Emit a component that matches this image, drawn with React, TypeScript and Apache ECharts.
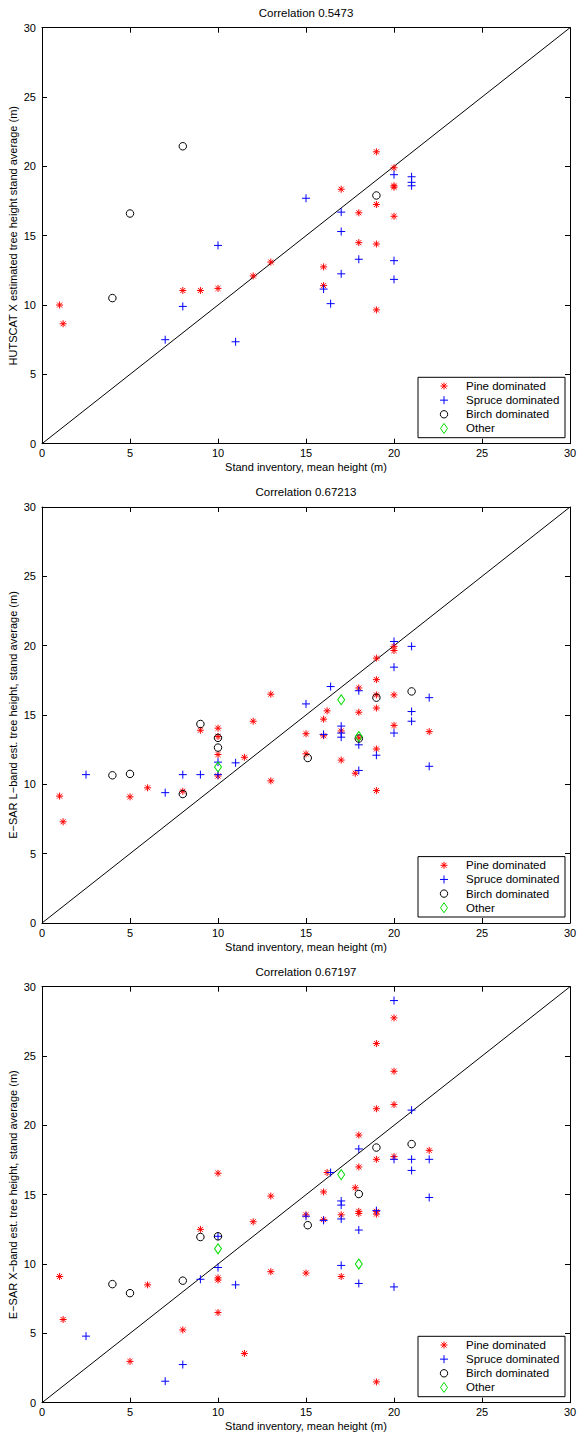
import React, { useEffect, useRef } from "react";
import * as echarts from "echarts";

const FONT = "Liberation Sans";

const TITLES = ["Correlation 0.5473", "Correlation 0.67213", "Correlation 0.67197"];
const Y_NAMES = [
  "HUTSCAT X estimated tree height stand average (m)",
  "E−SAR L−band est. tree height, stand average (m)",
  "E−SAR X−band est. tree height, stand average (m)",
];
const X_NAME = "Stand inventory, mean height (m)";
const SERIES_NAMES = ["Pine dominated", "Spruce dominated", "Birch dominated", "Other"];
const DIAGONAL = [
  [0, 0],
  [30, 30],
];

// Panel 1: HUTSCAT X
const pine1 = [
  [1.0, 10.0], [1.2, 8.65], [8, 11.05], [9, 11.05], [10, 11.2], [12, 12.1], [13, 13.1],
  [16, 12.75], [16, 11.4], [17, 18.35], [18, 16.65], [18, 14.5], [19, 21.05], [19, 17.25],
  [19, 14.4], [19, 9.65], [20, 19.9], [20, 18.6], [20, 18.5], [20, 16.4],
];
const spruce1 = [
  [7, 7.5], [8, 9.9], [10, 14.3], [11, 7.35], [15, 17.7], [16, 11.15], [16.4, 10.1],
  [17, 16.7], [17, 15.3], [17, 12.25], [18, 13.3], [20, 19.4], [20, 13.2], [20, 11.85],
  [21, 19.25], [21, 18.85], [21, 18.6],
];
const birch1 = [[4, 10.5], [5, 16.6], [8, 21.45], [19, 17.9]];
const other1: number[][] = [];

// Panel 2: E-SAR L-band
const pine2 = [
  [1, 9.15], [1.2, 7.3], [5, 9.1], [6, 9.75], [8, 9.5], [9, 13.9], [10, 14.05], [10, 13.45],
  [10, 12.15], [10, 10.6], [11.5, 11.95], [12, 14.55], [13, 16.5], [13, 10.25], [15, 13.65],
  [15, 12.2], [16, 14.7], [16, 13.5], [16.2, 15.3], [17, 13.85], [17, 11.75], [17.8, 10.8],
  [18, 16.95], [18, 15.2], [18, 13.35], [19, 19.1], [19, 17.55], [19, 16.45], [19, 15.5],
  [19, 12.55], [19, 9.55], [20, 19.95], [20, 19.65], [20, 16.45], [20, 14.25], [22, 13.8],
];
const spruce2 = [
  [2.5, 10.7], [7, 9.4], [8, 10.7], [9, 10.7], [10, 11.6], [10, 10.7], [11, 11.55], [15, 15.8],
  [16, 13.6], [16.4, 17.05], [17, 14.2], [17, 13.7], [17, 13.4], [18, 16.75], [18, 12.85],
  [18, 11.0], [19, 12.1], [20, 20.3], [20, 18.45], [20, 13.7], [21, 19.95], [21, 15.25],
  [21, 14.55], [22, 16.25], [22, 11.3],
];
const birch2 = [
  [4, 10.65], [5, 10.75], [8, 9.3], [9, 14.35], [10, 13.35], [10, 12.65], [15.1, 11.9],
  [18, 13.3], [19, 16.25], [21, 16.7],
];
const other2 = [[10, 11.25], [17, 16.1], [18, 13.45]];

// Panel 3: E-SAR X-band
const pine3 = [
  [1, 9.1], [1.2, 6.0], [5, 2.98], [6, 8.5], [8, 5.25], [9, 12.5], [10, 16.55], [10, 9.0],
  [10, 8.85], [10, 6.5], [11.5, 3.55], [12, 13.05], [13, 14.9], [13, 9.45], [15, 13.55],
  [15, 9.35], [16, 15.2], [16, 13.2], [16.2, 16.6], [17, 13.55], [17, 9.1], [17.8, 15.5],
  [18, 19.3], [18, 17.0], [18, 13.8], [18, 13.65], [19, 25.9], [19, 21.2], [19, 17.55],
  [19, 13.8], [19, 13.6], [19, 1.5], [20, 27.75], [20, 23.9], [20, 21.5], [20, 17.75], [22, 18.2],
];
const spruce3 = [
  [2.5, 4.8], [7, 1.55], [8, 2.75], [9, 8.9], [10, 12.0], [10, 9.75], [11, 8.5], [15, 13.45],
  [16, 13.15], [16.4, 16.6], [17, 14.55], [17, 14.25], [17, 13.25], [17, 9.9], [18, 18.3],
  [18, 12.45], [18, 8.6], [19, 13.85], [20, 29.0], [20, 17.55], [20, 8.35], [21, 21.1],
  [21, 17.55], [21, 16.75], [22, 17.55], [22, 14.8],
];
const birch3 = [
  [4, 8.55], [5, 7.9], [8, 8.8], [9, 11.95], [10, 12.0], [15.1, 12.8], [18, 15.05], [19, 18.4],
  [21, 18.65],
];
const other3 = [[10, 11.1], [17, 16.45], [18, 10.0]];

const PANELS = [
  [pine1, spruce1, birch1, other1],
  [pine2, spruce2, birch2, other2],
  [pine3, spruce3, birch3, other3],
];

const GRID_LEFT = 42;
const GRID_W = 528;
const GRID_H = 416;
const GRID_TOPS = [27.7, 507, 986.7];

const STAR = "path://M0,-1L0,1M-1,0L1,0M-0.71,-0.71L0.71,0.71M-0.71,0.71L0.71,-0.71";
const PLUS = "path://M0,-1L0,1M-1,0L1,0";
const DIAMOND = "path://M0,-1.4L1,0L0,1.4L-1,0Z";
const CLEAR = "rgba(0,0,0,0)";

const STYLES = [
  { symbol: STAR, symbolSize: 7, color: "#ff0000" },
  { symbol: PLUS, symbolSize: 8, color: "#0000ff" },
  { symbol: "circle", symbolSize: 7.5, color: "#000000" },
  { symbol: DIAMOND, symbolSize: [7, 10], color: "#00dd00" },
];

function legendIcon(k: number, cx: number, cy: number): any[] {
  const color = STYLES[k].color;
  const st = { stroke: color, lineWidth: 1, fill: null };
  const ln = (x1: number, y1: number, x2: number, y2: number) => ({
    type: "line",
    shape: { x1, y1, x2, y2 },
    style: st,
  });
  if (k === 0) {
    const r = 3.5;
    const d = 2.5;
    return [
      ln(cx, cy - r, cx, cy + r),
      ln(cx - r, cy, cx + r, cy),
      ln(cx - d, cy - d, cx + d, cy + d),
      ln(cx - d, cy + d, cx + d, cy - d),
    ];
  }
  if (k === 1) {
    const r = 4;
    return [ln(cx, cy - r, cx, cy + r), ln(cx - r, cy, cx + r, cy)];
  }
  if (k === 2) {
    return [{ type: "circle", shape: { cx, cy, r: 3.7 }, style: { stroke: color, lineWidth: 1, fill: null } }];
  }
  return [
    {
      type: "polygon",
      shape: { points: [[cx, cy - 5], [cx + 3.5, cy], [cx, cy + 5], [cx - 3.5, cy]] },
      style: { stroke: color, lineWidth: 1, fill: null },
    },
  ];
}

function buildLegend(t: number): any {
  const boxX = 418;
  const boxY = t + 349.6;
  const children: any[] = [
    {
      type: "rect",
      shape: { x: boxX, y: boxY, width: 147, height: 60.4 },
      style: { fill: "#fff", stroke: "#000", lineWidth: 1 },
    },
  ];
  SERIES_NAMES.forEach((name, k) => {
    const cy = boxY + 8.7 + 14.15 * k;
    children.push(...legendIcon(k, 444, cy));
    children.push({
      type: "text",
      x: 466,
      y: cy,
      style: {
        text: name,
        fill: "#000",
        font: `11.5px ${FONT}`,
        textAlign: "left",
        textVerticalAlign: "middle",
      },
    });
  });
  return { type: "group", z: 10, children };
}

function buildOption() {
  const grid = GRID_TOPS.map((t) => ({
    left: GRID_LEFT,
    top: t,
    width: GRID_W,
    height: GRID_H,
    containLabel: false,
    outerBoundsMode: "none",
  }));
  const xAxis: any[] = [];
  const yAxis: any[] = [];
  const baseAxis = {
    type: "value",
    min: 0,
    max: 30,
    interval: 5,
    splitLine: { show: false },
    axisLine: { show: true, onZero: false, lineStyle: { color: "#000", width: 1 } },
    axisTick: { show: true, inside: true, length: 5, lineStyle: { color: "#000", width: 1 } },
  };
  GRID_TOPS.forEach((_, i) => {
    xAxis.push({
      ...baseAxis,
      gridIndex: i,
      position: "bottom",
      axisLabel: { color: "#000", fontSize: 11, fontFamily: FONT, margin: 4 },
      name: X_NAME,
      nameLocation: "middle",
      nameGap: 18,
      nameMoveOverlap: false,
      nameTextStyle: { color: "#000", fontSize: 11, fontFamily: FONT },
    });
    xAxis.push({
      ...baseAxis,
      gridIndex: i,
      position: "top",
      axisLabel: { show: false },
    });
    yAxis.push({
      ...baseAxis,
      gridIndex: i,
      position: "left",
      axisLabel: { color: "#000", fontSize: 11, fontFamily: FONT, margin: 6 },
      name: Y_NAMES[i],
      nameLocation: "middle",
      nameGap: 24,
      nameMoveOverlap: false,
      nameTextStyle: { color: "#000", fontSize: 11, fontFamily: FONT },
    });
    yAxis.push({
      ...baseAxis,
      gridIndex: i,
      position: "right",
      axisLabel: { show: false },
    });
  });

  const series: any[] = [];
  PANELS.forEach((groups, i) => {
    series.push({
      type: "line",
      xAxisIndex: i * 2,
      yAxisIndex: i * 2,
      data: DIAGONAL,
      showSymbol: false,
      silent: true,
      lineStyle: { color: "#000", width: 1 },
      z: 1,
    });
    groups.forEach((data, k) => {
      const s = STYLES[k];
      series.push({
        type: "scatter",
        name: SERIES_NAMES[k],
        xAxisIndex: i * 2,
        yAxisIndex: i * 2,
        data,
        symbol: s.symbol,
        symbolSize: s.symbolSize,
        itemStyle: { color: CLEAR, borderColor: s.color, borderWidth: 1, opacity: 1 },
        emphasis: { disabled: true },
        z: 2,
      });
    });
  });

  const titles = GRID_TOPS.map((t, i) => ({
    type: "text",
    x: GRID_LEFT + GRID_W / 2,
    y: t - 15,
    style: {
      text: TITLES[i],
      fill: "#000",
      font: `11.5px ${FONT}`,
      textAlign: "center",
      textVerticalAlign: "middle",
    },
  }));

  return {
    animation: false,
    backgroundColor: "#fff",
    grid,
    xAxis,
    yAxis,
    series,
    graphic: [...titles, ...GRID_TOPS.map((t) => buildLegend(t))],
  };
}

export default function App() {
  const ref = useRef<HTMLDivElement>(null);
  useEffect(() => {
    if (!ref.current) return;
    const chart = echarts.init(ref.current, null, { renderer: "svg" });
    chart.setOption(buildOption() as any);
    return () => chart.dispose();
  }, []);
  return (
    <div
      ref={ref}
      style={{ position: "absolute", left: 0, top: 0, width: 578, height: 1436, background: "#fff" }}
    />
  );
}
